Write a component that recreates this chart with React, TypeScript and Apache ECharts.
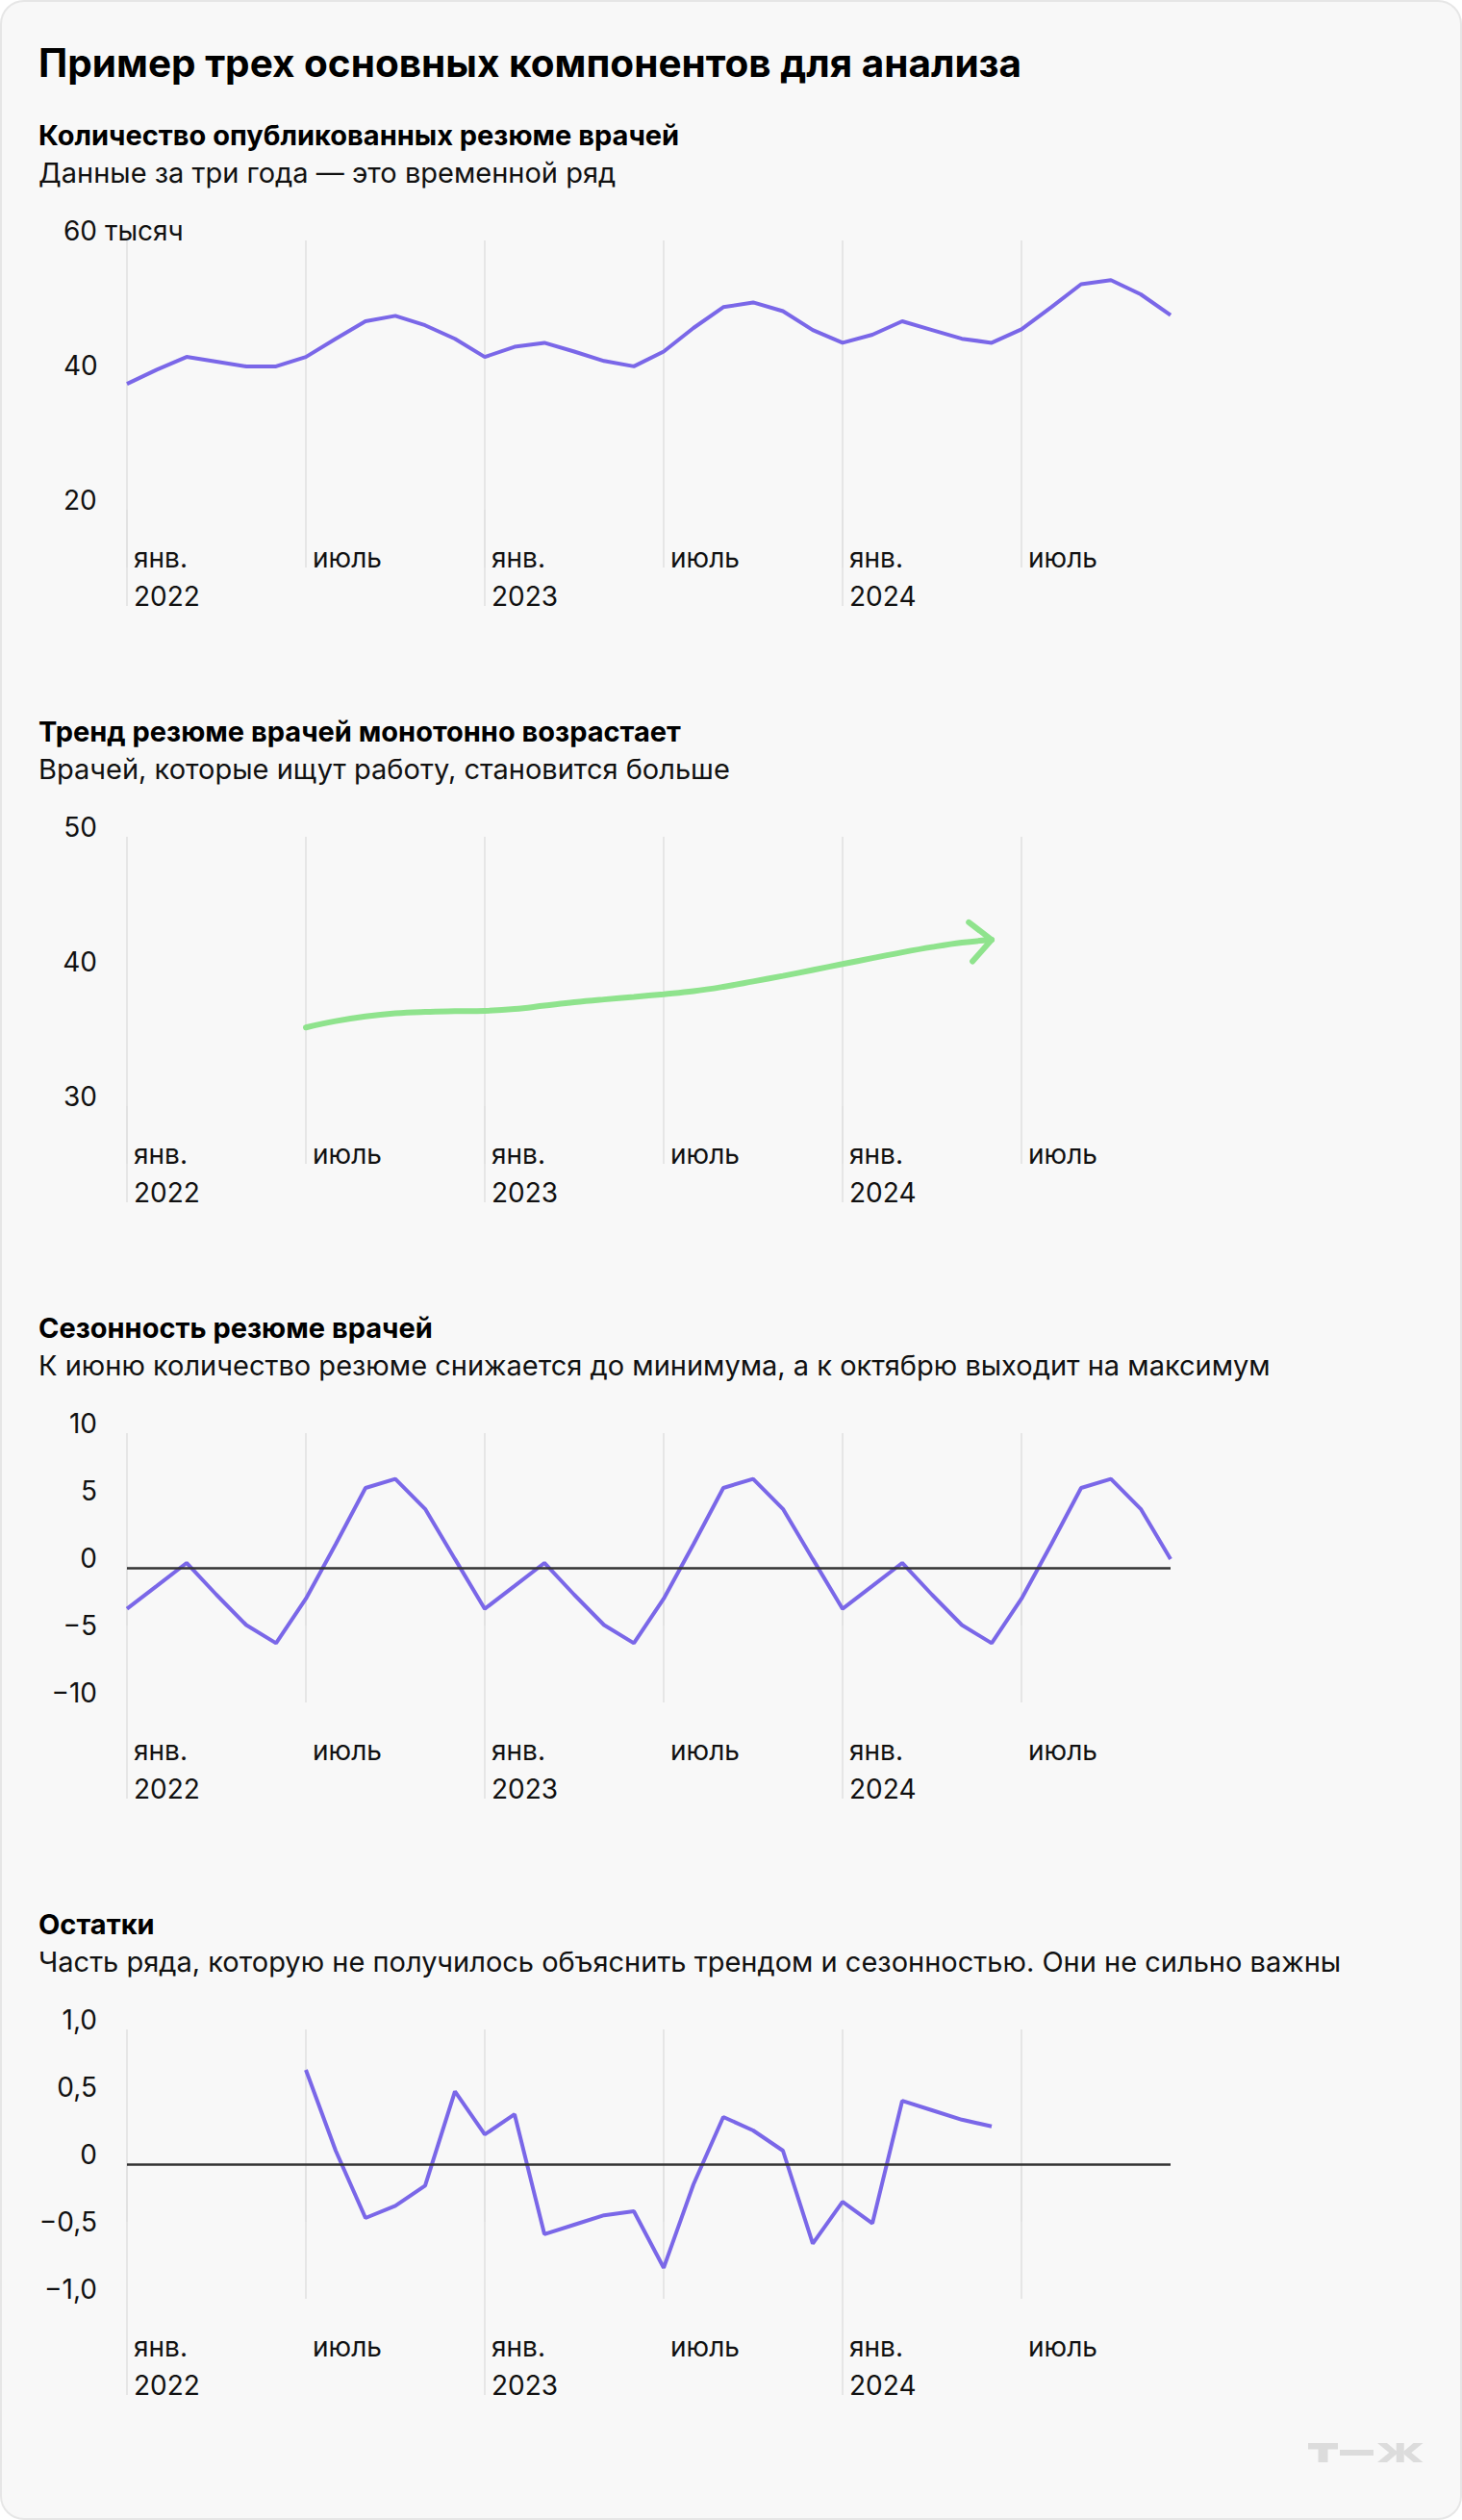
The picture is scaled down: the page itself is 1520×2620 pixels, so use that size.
import React, { useEffect, useRef } from 'react';
import * as echarts from 'echarts';

// ---------- DATA ----------
const months = [
  '2022-01', '2022-02', '2022-03', '2022-04', '2022-05', '2022-06',
  '2022-07', '2022-08', '2022-09', '2022-10', '2022-11', '2022-12',
  '2023-01', '2023-02', '2023-03', '2023-04', '2023-05', '2023-06',
  '2023-07', '2023-08', '2023-09', '2023-10', '2023-11', '2023-12',
  '2024-01', '2024-02', '2024-03', '2024-04', '2024-05', '2024-06',
  '2024-07', '2024-08', '2024-09', '2024-10', '2024-11', '2024-12',
];

const monthTickLabels: Record<string, string> = {
  '2022-01': 'янв.\n2022',
  '2022-07': 'июль',
  '2023-01': 'янв.\n2023',
  '2023-07': 'июль',
  '2024-01': 'янв.\n2024',
  '2024-07': 'июль',
};

// Количество опубликованных резюме врачей, тысяч
const observed = [
  38.7, 40.8, 42.7, 42.0, 41.3, 41.3, 42.7, 45.4, 48.0, 48.8, 47.4, 45.4,
  42.7, 44.2, 44.8, 43.5, 42.1, 41.3, 43.5, 47.0, 50.1, 50.8, 49.5, 46.7,
  44.8, 46.0, 48.0, 46.7, 45.4, 44.8, 46.8, 50.1, 53.5, 54.1, 52.0, 48.9,
];

// Тренд
const trend = [
  null, null, null, null, null, null,
  35.84, 36.31, 36.66, 36.89, 37.0, 37.05,
  37.08, 37.21, 37.46, 37.71, 37.92, 38.11,
  38.31, 38.53, 38.86, 39.26, 39.67, 40.11,
  40.55, 40.99, 41.42, 41.81, 42.14, 42.35,
  null, null, null, null, null, null,
];

// Сезонность
const seasonal = [
  -3.05, -1.35, 0.36, -2.0, -4.25, -5.6, -2.3, 1.75, 5.93, 6.6, 4.37, 0.65,
  -3.05, -1.35, 0.36, -2.0, -4.25, -5.6, -2.3, 1.75, 5.93, 6.6, 4.37, 0.65,
  -3.05, -1.35, 0.36, -2.0, -4.25, -5.6, -2.3, 1.75, 5.93, 6.6, 4.37, 0.65,
];

// Остатки
const residual = [
  null, null, null, null, null, null,
  0.70, 0.10, -0.40, -0.31, -0.16, 0.54,
  0.22, 0.37, -0.52, -0.45, -0.38, -0.35,
  -0.77, -0.15, 0.35, 0.25, 0.10, -0.59,
  -0.28, -0.44, 0.47, 0.40, 0.33, 0.28,
  null, null, null, null, null, null,
];

const yAxisObserved = { min: 20, max: 60, interval: 20 };
const yAxisTrend = { min: 30, max: 50, interval: 10 };
const yAxisSeasonal = { min: -10, max: 10, interval: 5 };
const yAxisResidual = { min: -1, max: 1, interval: 0.5 };

const mainTitle = 'Пример трех основных компонентов для анализа';
const panelTitles = [
  'Количество опубликованных резюме врачей',
  'Тренд резюме врачей монотонно возрастает',
  'Сезонность резюме врачей',
  'Остатки',
];
const panelSubtitles = [
  'Данные за три года — это временной ряд',
  'Врачей, которые ищут работу, становится больше',
  'К июню количество резюме снижается до минимума, а к октябрю выходит на максимум',
  'Часть ряда, которую не получилось объяснить трендом и сезонностью. Они не сильно важны',
];

// ---------- STYLE ----------
const FONT = 'Inter, "Noto Sans", Roboto, sans-serif';
const PURPLE = '#7a67e8';
const GREEN = '#8fe38d';
const GRIDC = '#e1e1e1';
const TEXT = '#111111';

const GRID_LEFT = 132;
const GRID_WIDTH = 1085;
const GRID_HEIGHT = 280;
const GRID_TOPS = [250, 870, 1490, 2110];

function fmtNum(v: number, decimals: number) {
  if (v === 0) return '0';
  const s = Math.abs(v).toFixed(decimals).replace('.', ',');
  return (v < 0 ? '\u2212' : '') + s;
}

function buildOption() {
  const grids: any[] = [];
  const xAxes: any[] = [];
  const yAxes: any[] = [];
  const series: any[] = [];
  const graphics: any[] = [];

  graphics.push({
    type: 'rect',
    z: -100,
    shape: { x: 1, y: 1, width: 1518, height: 2618, r: 24 },
    style: { fill: '#f8f8f8', stroke: '#e6e6e6', lineWidth: 2 },
  });
  graphics.push({
    type: 'text',
    x: 40,
    y: 65,
    style: {
      text: mainTitle,
      fontFamily: FONT,
      fontSize: 40.5,
      fontWeight: 'bold',
      fill: '#000',
      verticalAlign: 'middle',
    },
  });

  const yConfs = [yAxisObserved, yAxisTrend, yAxisSeasonal, yAxisResidual];
  const formatters = [
    (v: number) => (v === 60 ? '60 тысяч' : String(v)),
    (v: number) => String(v),
    (v: number) => fmtNum(v, 0),
    (v: number) => fmtNum(v, 1),
  ];

  for (let i = 0; i < 4; i++) {
    const top = GRID_TOPS[i];
    graphics.push({
      type: 'text',
      x: 40,
      y: top - 110,
      style: {
        text: panelTitles[i],
        fontFamily: FONT,
        fontSize: 29,
        fontWeight: 'bold',
        fill: '#000',
        verticalAlign: 'middle',
      },
    });
    graphics.push({
      type: 'text',
      x: 40,
      y: top - 71,
      style: {
        text: panelSubtitles[i],
        fontFamily: FONT,
        fontSize: 29,
        fill: TEXT,
        verticalAlign: 'middle',
      },
    });

    grids.push({ left: GRID_LEFT, top, width: GRID_WIDTH, height: GRID_HEIGHT });

    xAxes.push({
      type: 'category',
      gridIndex: i,
      data: months,
      boundaryGap: false,
      axisLine: { show: false },
      axisTick: {
        show: true,
        interval: (idx: number) => idx % 6 === 0,
        length: 60,
        lineStyle: { color: GRIDC, width: 1.5 },
      },
      splitLine: {
        show: true,
        interval: (idx: number) => idx % 6 === 0,
        lineStyle: { color: GRIDC, width: 1.5 },
      },
      axisLabel: {
        show: true,
        interval: (idx: number) => idx % 6 === 0,
        formatter: (v: string) => monthTickLabels[v] || '',
        align: 'left',
        padding: [0, 0, 0, 7],
        margin: 30,
        fontSize: 28,
        lineHeight: 40,
        color: TEXT,
        fontFamily: FONT,
      },
    });
    xAxes.push({
      type: 'category',
      gridIndex: i,
      data: months,
      boundaryGap: false,
      position: 'bottom',
      offset: 0,
      axisLine: { show: false },
      axisLabel: { show: false },
      splitLine: { show: false },
      axisTick: {
        show: true,
        interval: (idx: number) => idx % 12 === 0,
        length: 100,
        lineStyle: { color: GRIDC, width: 1.5 },
      },
    });

    const yc = yConfs[i];
    yAxes.push({
      type: 'value',
      gridIndex: i,
      min: yc.min,
      max: yc.max,
      interval: yc.interval,
      axisLine: { show: false },
      axisTick: { show: false },
      splitLine: { show: false },
      axisLabel: {
        formatter: formatters[i],
        align: i === 0 ? 'left' : 'right',
        margin: i === 0 ? 66 : 31,
        verticalAlign: 'bottom',
        lineHeight: 20,
        fontSize: 28,
        color: TEXT,
        fontFamily: FONT,
      },
    });
  }

  // Panel 1: observed
  series.push({
    type: 'line',
    xAxisIndex: 0,
    yAxisIndex: 0,
    data: observed,
    symbol: 'none',
    z: 3,
    lineStyle: { color: PURPLE, width: 4 },
  });

  // Panel 2: trend with arrow
  series.push({
    type: 'line',
    xAxisIndex: 2,
    yAxisIndex: 1,
    data: trend,
    smooth: 0.4,
    symbol: 'none',
    z: 3,
    lineStyle: { color: GREEN, width: 6, cap: 'round' },
  });
  let lastIdx = -1;
  trend.forEach((v, k) => {
    if (v != null) lastIdx = k;
  });
  series.push({
    type: 'custom',
    xAxisIndex: 2,
    yAxisIndex: 1,
    z: 4,
    data: [[lastIdx, trend[lastIdx]]],
    renderItem: (params: any, api: any) => {
      const k = api.value(0);
      const tip = api.coord([k, api.value(1)]);
      const prev = api.coord([k - 1, trend[k - 1]]);
      const ang = Math.atan2(tip[1] - prev[1], tip[0] - prev[0]);
      const back = ang + Math.PI;
      const th = (43 * Math.PI) / 180;
      const L = 30;
      const a1 = [tip[0] + L * Math.cos(back - th), tip[1] + L * Math.sin(back - th)];
      const a2 = [tip[0] + L * Math.cos(back + th), tip[1] + L * Math.sin(back + th)];
      return {
        type: 'polyline',
        shape: { points: [a1, tip, a2] },
        style: { stroke: GREEN, lineWidth: 6, fill: null, lineCap: 'round', lineJoin: 'round' },
      };
    },
  });

  const zeroLine = (xi: number, yi: number) => ({
    type: 'line',
    xAxisIndex: xi,
    yAxisIndex: yi,
    data: [],
    z: 1,
    markLine: {
      silent: true,
      symbol: ['none', 'none'],
      label: { show: false },
      lineStyle: { color: '#333333', width: 2.5, type: 'solid' },
      data: [{ yAxis: 0 }],
    },
  });

  // Panel 3: seasonal
  series.push(zeroLine(4, 2));
  series.push({
    type: 'line',
    xAxisIndex: 4,
    yAxisIndex: 2,
    data: seasonal,
    symbol: 'none',
    z: 3,
    lineStyle: { color: PURPLE, width: 4 },
  });

  // Panel 4: residual
  series.push(zeroLine(6, 3));
  series.push({
    type: 'line',
    xAxisIndex: 6,
    yAxisIndex: 3,
    data: residual,
    symbol: 'none',
    z: 3,
    lineStyle: { color: PURPLE, width: 4 },
  });

  // Logo Т—Ж
  const LOGO = '#dcdcdc';
  graphics.push(
    { type: 'rect', shape: { x: 1360, y: 2540, width: 31, height: 6.5 }, style: { fill: LOGO } },
    { type: 'rect', shape: { x: 1370.5, y: 2540, width: 10, height: 20 }, style: { fill: LOGO } },
    { type: 'rect', shape: { x: 1393, y: 2547, width: 35, height: 6 }, style: { fill: LOGO } },
    { type: 'rect', shape: { x: 1451.7, y: 2540, width: 8, height: 20 }, style: { fill: LOGO } },
    { type: 'polygon', shape: { points: [[1432, 2540], [1442, 2540], [1452, 2548.5], [1452, 2551.5], [1446, 2551.5]] }, style: { fill: LOGO } },
    { type: 'polygon', shape: { points: [[1446, 2548.5], [1452, 2548.5], [1452, 2551.5], [1442, 2560], [1432, 2560]] }, style: { fill: LOGO } },
    { type: 'polygon', shape: { points: [[1479.5, 2540], [1469.5, 2540], [1459.5, 2548.5], [1459.5, 2551.5], [1465.5, 2551.5]] }, style: { fill: LOGO } },
    { type: 'polygon', shape: { points: [[1465.5, 2548.5], [1459.5, 2548.5], [1459.5, 2551.5], [1469.5, 2560], [1479.5, 2560]] }, style: { fill: LOGO } },
  );

  return {
    animation: false,
    backgroundColor: '#ffffff',
    textStyle: { fontFamily: FONT },
    grid: grids,
    xAxis: xAxes,
    yAxis: yAxes,
    series,
    graphic: graphics,
  };
}

export default function App() {
  const ref = useRef<HTMLDivElement>(null);
  useEffect(() => {
    if (!ref.current) return;
    const chart = echarts.init(ref.current, null, { renderer: 'svg' });
    chart.setOption(buildOption() as any);
    return () => chart.dispose();
  }, []);
  return (
    <div
      ref={ref}
      style={{ position: 'absolute', left: 0, top: 0, width: 1520, height: 2620 }}
    />
  );
}
